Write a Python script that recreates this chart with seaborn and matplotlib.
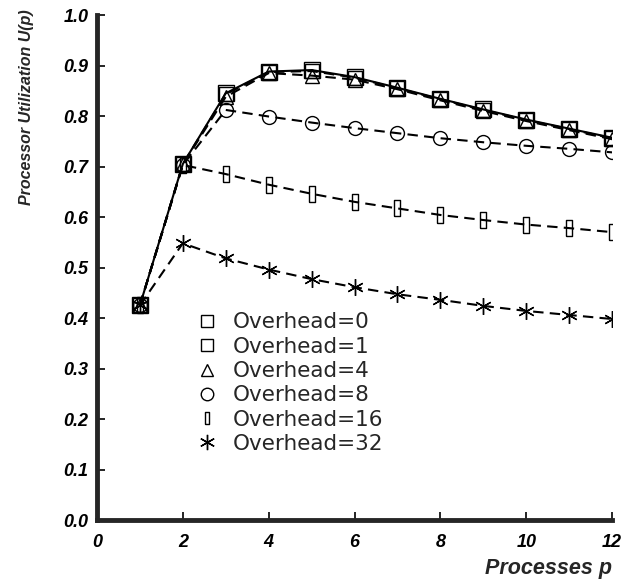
import pandas as pd
import numpy as np
import matplotlib
matplotlib.use("Agg")
import matplotlib.pyplot as plt
import seaborn as sns
from matplotlib.lines import Line2D

# ------------------------------------------------------------
# data
# ------------------------------------------------------------
procs = [1, 2, 3, 4, 5, 6, 7, 8, 9, 10, 11, 12]
ov0 = [0.425, 0.705, 0.845, 0.888, 0.891, 0.877, 0.856, 0.834, 0.813, 0.793, 0.775, 0.757]
ov1 = [0.425, 0.705, 0.843, 0.887, 0.889, 0.876, 0.855, 0.833, 0.812, 0.792, 0.774, 0.756]
ov4 = [0.425, 0.704, 0.838, 0.885, 0.880, 0.872, 0.853, 0.831, 0.810, 0.790, 0.772, 0.754]
ov8 = [0.425, 0.703, 0.812, 0.799, 0.787, 0.776, 0.766, 0.756, 0.748, 0.741, 0.735, 0.728]
ov16 = [0.425, 0.703, 0.685, 0.664, 0.646, 0.630, 0.617, 0.604, 0.594, 0.585, 0.578, 0.570]
ov32 = [0.425, 0.548, 0.518, 0.496, 0.477, 0.461, 0.447, 0.436, 0.424, 0.414, 0.406, 0.398]
labels = ["Overhead=0", "Overhead=1", "Overhead=4", "Overhead=8",
          "Overhead=16", "Overhead=32"]
x_ticks = [0, 2, 4, 6, 8, 10, 12]
y_ticks = [0.0, 0.1, 0.2, 0.3, 0.4, 0.5, 0.6, 0.7, 0.8, 0.9, 1.0]

series = [ov0, ov1, ov4, ov8, ov16, ov32]
df = pd.concat([
    pd.DataFrame({"p": procs, "U": vals, "Overhead": lab})
    for lab, vals in zip(labels, series)
], ignore_index=True)

# narrow box for overhead=16
slim_box = [(-0.35, -1), (0.35, -1), (0.35, 1), (-0.35, 1), (-0.35, -1)]
markers = {labels[0]: "s", labels[1]: "s", labels[2]: "^",
           labels[3]: "o", labels[4]: slim_box, labels[5]: (6, 2, 0)}
dashes = {labels[0]: "", labels[1]: (5, 3), labels[2]: (5, 3),
          labels[3]: (5, 3), labels[4]: (5, 3), labels[5]: (5, 3)}
msizes = {labels[0]: 11, labels[1]: 10, labels[2]: 10,
          labels[3]: 10, labels[4]: 11, labels[5]: 12}

sns.set_style("ticks")
plt.rcParams['font.family'] = ['Liberation Sans', 'DejaVu Sans']

fig = plt.figure(figsize=(6.24, 5.86), dpi=100)
ax = fig.add_axes([0.1554, 0.1126, 0.8256, 0.8618])

for lab in labels:
    sub = df[df["Overhead"] == lab]
    sns.lineplot(data=sub, x="p", y="U", ax=ax, color="black",
                 linewidth=1.5, marker=markers[lab], markersize=msizes[lab],
                 markerfacecolor="none", markeredgecolor="black",
                 markeredgewidth=1.0, legend=False)
    ln = ax.lines[-1]
    if dashes[lab]:
        ln.set_dashes(dashes[lab])

ax.set_xlim(0, 12)
ax.set_ylim(0, 1.0)
ax.set_xticks(x_ticks)
ax.set_yticks(y_ticks)
ax.set_xticklabels([str(t) for t in x_ticks])
ax.set_yticklabels([f"{t:.1f}" for t in y_ticks])
ax.tick_params(direction="in", length=6, width=1.2, colors="black",
               labelsize=13, pad=6)
ax.tick_params(axis="x", pad=10)
for t in ax.get_xticklabels() + ax.get_yticklabels():
    t.set_fontweight("bold")
    t.set_fontstyle("italic")

for s in ["top", "right"]:
    ax.spines[s].set_visible(False)
ax.spines["left"].set_linewidth(3.5)
ax.spines["bottom"].set_linewidth(3.5)

ax.set_xlabel("")
ax.set_ylabel("")
fig.text(0.981, 0.030, "Processes p", ha="right", va="center",
         fontsize=15.5, fontweight="bold", fontstyle="italic")
fig.text(0.042, 0.985, "Processor Utilization U(p)", ha="center", va="top",
         rotation=90, fontsize=11.5, fontweight="bold", fontstyle="italic")

handles = [Line2D([], [], linestyle="none", marker=markers[lab],
                  markersize=9 if lab != labels[5] else 11,
                  markerfacecolor="none", markeredgecolor="black",
                  markeredgewidth=1.0)
           for lab in labels]
ax.legend(handles, labels, loc="upper left", bbox_to_anchor=(0.175, 0.428),
          frameon=False, handletextpad=0.7, labelspacing=0.2,
          handlelength=1.0, borderaxespad=0,
          prop={"family": "DejaVu Sans", "size": 15.5})

fig.savefig("out.png", dpi=100)
